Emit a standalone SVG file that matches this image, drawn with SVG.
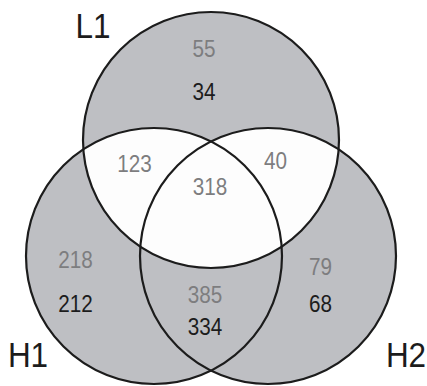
<svg xmlns="http://www.w3.org/2000/svg" width="427" height="386" viewBox="0 0 427 386">
  <style>
    .fill { fill: #bebfc3; stroke: none; }
    .ring { fill: none; stroke: #1c1c1c; stroke-width: 2.2; }
    .lbl { font-family: "Liberation Sans", Arial, sans-serif; font-size: 35px; fill: #1c1c1c; text-anchor: middle; }
    .n { font-family: "Liberation Sans", Arial, sans-serif; font-size: 23px; text-anchor: middle; }
    .g { fill: #7d7d7f; }
    .k { fill: #1c1c1c; }
  </style>
  <defs>
    <clipPath id="hUnion">
      <circle cx="154" cy="256" r="128"/>
      <circle cx="268" cy="256" r="128"/>
    </clipPath>
  </defs>
  <rect width="427" height="386" fill="#ffffff"/>
  <g id="fills">
    <circle class="fill" cx="211" cy="140" r="128"/>
    <circle class="fill" cx="154" cy="256" r="128"/>
    <circle class="fill" cx="268" cy="256" r="128"/>
    <circle cx="211" cy="140" r="128" fill="#fdfdfd" clip-path="url(#hUnion)"/>
  </g>
  <g id="L1">
    <circle class="ring" cx="211" cy="140" r="128"/>
    <text class="lbl" transform="translate(93,38) scale(0.9,1)">L1</text>
  </g>
  <g id="H1">
    <circle class="ring" cx="154" cy="256" r="128"/>
    <text class="lbl" transform="translate(28,367) scale(0.9,1)">H1</text>
  </g>
  <g id="H2">
    <circle class="ring" cx="268" cy="256" r="128"/>
    <text class="lbl" transform="translate(406,367) scale(0.9,1)">H2</text>
  </g>
  <g id="counts">
    <text class="n g" transform="translate(204,57) scale(0.9,1)">55</text>
    <text class="n k" transform="translate(204,100) scale(0.9,1)">34</text>
    <text class="n g" transform="translate(134.5,172) scale(0.9,1)">123</text>
    <text class="n g" transform="translate(275.5,169) scale(0.9,1)">40</text>
    <text class="n g" transform="translate(210,195) scale(0.9,1)">318</text>
    <text class="n g" transform="translate(75.5,268) scale(0.9,1)">218</text>
    <text class="n k" transform="translate(75.5,312) scale(0.9,1)">212</text>
    <text class="n g" transform="translate(205,303) scale(0.9,1)">385</text>
    <text class="n k" transform="translate(205,335) scale(0.9,1)">334</text>
    <text class="n g" transform="translate(320.5,275) scale(0.9,1)">79</text>
    <text class="n k" transform="translate(320.5,312) scale(0.9,1)">68</text>
  </g>
</svg>
